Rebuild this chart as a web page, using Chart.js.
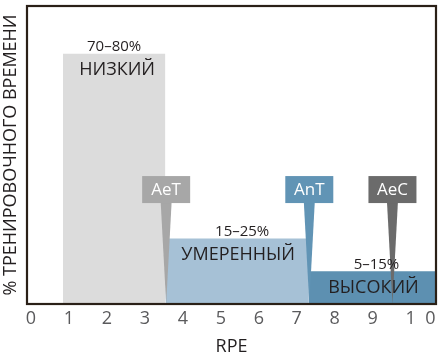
<!DOCTYPE html>
<html>
<head>
<meta charset="utf-8">
<script src="https://cdn.jsdelivr.net/npm/chart.js@4.4.1/dist/chart.umd.min.js"></script>
<style>
  html, body { margin: 0; padding: 0; background: #fff; }
  #wrap { width: 444px; height: 360px; }
</style>
</head>
<body>
<div id="wrap"><canvas id="c"></canvas></div>
<script>
// zones d'intensité
const zoneNames  = ['НИЗКИЙ', 'УМЕРЕННЫЙ', 'ВЫСОКИЙ'];
const zoneShares = ['70–80%', '15–25%', '5–15%'];
const zoneStart  = [0.84, 3.54, 7.32];
const zoneEnd    = [3.54, 7.32, 10.7];
const zoneHeight = [84, 22, 11];

// seuils (AeT, AnT, AeC)
const markerLabels = ['AeT', 'AnT', 'AeC'];
const markerRpe    = [3.56, 7.33, 9.52];
const MARKER_LEVEL = 38.4;

// graduations RPE (le "10" est espacé sur l'original)
const tickValues = [0, 1, 2, 3, 4, 5, 6, 7, 8, 9, 10, 10.52];
const tickLabels = ['0', '1', '2', '3', '4', '5', '6', '7', '8', '9', '1', '0'];

const zoneColors   = ['#dcdcdc', '#a6c1d6', '#5d90b1'];
const markerColors = ['#a7a7a7', '#6194b5', '#6b6b6b'];
const FONT = '"Open Sans", sans-serif';
const DARK = '#231f20';

const overlay = {
  id: 'overlay',
  afterDatasetsDraw(chart) {
    const { ctx, chartArea: a, scales: { x, y } } = chart;
    const base = y.getPixelForValue(0);
    const cy = y.getPixelForValue(MARKER_LEVEL);
    ctx.save();
    // pointes des seuils
    markerRpe.forEach((v, i) => {
      const px = x.getPixelForValue(v);
      ctx.fillStyle = markerColors[i];
      ctx.beginPath();
      ctx.moveTo(px - 5.5, cy + 12);
      ctx.lineTo(px + 5.5, cy + 12);
      ctx.lineTo(px, base);
      ctx.closePath();
      ctx.fill();
    });
    // textes des zones
    ctx.fillStyle = DARK;
    ctx.textAlign = 'center';
    ctx.textBaseline = 'alphabetic';
    zoneNames.forEach((name, i) => {
      const mid = x.getPixelForValue((zoneStart[i] + Math.min(zoneEnd[i], x.max)) / 2);
      const top = y.getPixelForValue(zoneHeight[i]);
      ctx.font = '15px ' + FONT;
      ctx.fillText(zoneShares[i], mid + [0, 5, 4][i], top - 2.5);
      ctx.font = '18px ' + FONT;
      ctx.fillText(name, mid + [3, 1, 1][i], top + 21.5);
    });
    // boîtes des seuils
    markerLabels.forEach((lab, i) => {
      const px = x.getPixelForValue(markerRpe[i]);
      ctx.fillStyle = markerColors[i];
      ctx.fillRect(px - 24, cy - 13.5, 48, 27);
      ctx.fillStyle = '#fff';
      ctx.font = '17px ' + FONT;
      ctx.textBaseline = 'middle';
      ctx.fillText(lab, px, cy + 1);
    });
    // cadre
    ctx.strokeStyle = '#2a2017';
    ctx.lineWidth = 2.2;
    ctx.strokeRect(a.left, a.top, a.right - a.left, a.bottom - a.top);
    ctx.restore();
  }
};

const datasets = zoneNames.map((name, i) => ({
  label: name,
  data: [{ x: zoneStart[i], y: zoneHeight[i] }, { x: zoneEnd[i], y: zoneHeight[i] }],
  backgroundColor: zoneColors[i],
  borderWidth: 0,
  pointRadius: 0,
  tension: 0,
  fill: 'origin',
}));

new Chart(document.getElementById('c'), {
  type: 'line',
  data: { datasets },
  options: {
    animation: false,
    responsive: true,
    maintainAspectRatio: false,
    layout: { padding: { top: 6, right: 8, left: 0, bottom: 0 } },
    plugins: { legend: { display: false }, tooltip: { enabled: false } },
    scales: {
      x: {
        type: 'linear',
        min: -0.105,
        max: 10.667,
        afterBuildTicks: s => { s.ticks = tickValues.map(v => ({ value: v })); },
        afterFit: s => { s.height = 56; },
        grid: { display: false, drawTicks: false },
        border: { display: false },
        ticks: {
          autoSkip: false,
          maxRotation: 0,
          padding: 4,
          color: '#5a5a5c',
          font: { family: FONT, size: 18 },
          callback: (v, i) => tickLabels[i],
        },
        title: { display: true, text: 'RPE', color: DARK, font: { family: FONT, size: 18 }, padding: { top: 0, bottom: 2 } },
      },
      y: {
        min: 0,
        max: 100,
        afterFit: s => { s.width = 27; },
        grid: { display: false, drawTicks: false },
        border: { display: false },
        ticks: { display: false },
        title: { display: true, text: '% ТРЕНИРОВОЧНОГО ВРЕМЕНИ', color: DARK, font: { family: FONT, size: 18 }, padding: { top: 0, bottom: 0 } },
      }
    }
  },
  plugins: [overlay]
});
</script>
</body>
</html>
